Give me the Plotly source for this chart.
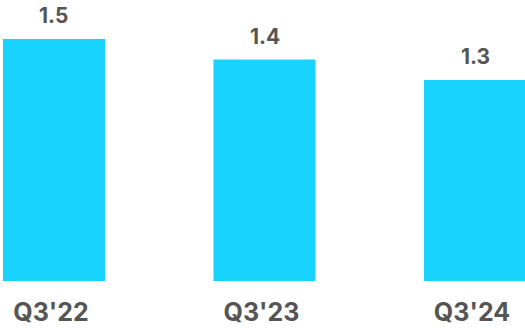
import plotly.graph_objects as go

categories = ["Q3'22", "Q3'23", "Q3'24"]
values = [1.54, 1.41, 1.28]

fig = go.Figure(go.Bar(
    x=[0, 1, 2], y=values, width=0.485,
    marker=dict(color="#19D3FF", line=dict(width=0)),
    hoverinfo="skip",
))

for i, v in enumerate(values):
    fig.add_annotation(x=i, y=v, text=f"{v:.1f}", showarrow=False,
                       yanchor="bottom", yshift=9,
                       font=dict(family="Inter", size=21, color="#555555", weight="bold"))

fig.update_layout(
    width=525, height=328,
    margin=dict(l=0, r=0, t=0, b=47, autoexpand=False),
    paper_bgcolor="white", plot_bgcolor="white",
    showlegend=False,
    hovermode=False,
    xaxis=dict(range=[-0.2565, 2.2375], tickvals=[0, 1, 2], ticktext=categories,
               showgrid=False, zeroline=False, showline=False, ticks="",
               automargin=False,
               ticklabelshift=-3, ticklabelstandoff=14,
               tickfont=dict(family="Inter", size=25, color="#555555", weight="bold")),
    yaxis=dict(range=[0, 1.789], visible=False),
)

fig.write_html("out.html",
               config={"displayModeBar": False, "staticPlot": True},
               post_script="document.body.style.margin='0px';document.body.style.overflow='hidden';")
